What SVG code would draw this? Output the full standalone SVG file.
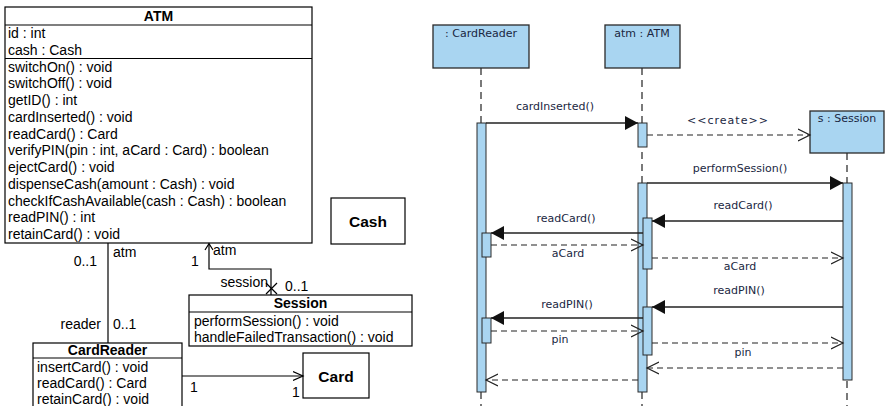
<svg xmlns="http://www.w3.org/2000/svg" width="885" height="406" viewBox="0 0 885 406">
<defs>
<style>
.cls{fill:#fff;stroke:#000;stroke-width:1.2}
.sep{stroke:#000;stroke-width:1.2}
.t{font-family:"Liberation Sans",Arial,sans-serif;font-size:14px;fill:#000}
.b{font-family:"Liberation Sans",Arial,sans-serif;font-size:14px;font-weight:bold;fill:#000;text-anchor:middle}
.big{font-family:"Liberation Sans",Arial,sans-serif;font-size:15.5px;font-weight:bold;fill:#000;text-anchor:middle}
.ln{stroke:#000;stroke-width:1.2;fill:none}
.head{fill:#a9d5f1;stroke:#2a2a2a;stroke-width:1.3}
.act{fill:#a9d5f1;stroke:#2a2a2a;stroke-width:1}
.life{stroke:#222;stroke-width:1.2;stroke-dasharray:7,5;fill:none}
.msg{stroke:#222;stroke-width:1.3;fill:none}
.ret{stroke:#222;stroke-width:1.2;stroke-dasharray:6,4;fill:none}
.s{font-family:"DejaVu Sans",sans-serif;font-size:11px;fill:#1a2742;text-anchor:middle}
</style>
<marker id="fill" markerWidth="14" markerHeight="14" refX="13" refY="7" orient="auto" markerUnits="userSpaceOnUse">
<path d="M0,0 L13,7 L0,14 Z" fill="#111"/>
</marker>
<marker id="open" markerWidth="14" markerHeight="14" refX="12" refY="7" orient="auto" markerUnits="userSpaceOnUse">
<path d="M0,1 L12,7 L0,13" fill="none" stroke="#222" stroke-width="1.2"/>
</marker>
<marker id="openc" markerWidth="12" markerHeight="12" refX="10" refY="6" orient="auto" markerUnits="userSpaceOnUse">
<path d="M0,1.5 L10,6 L0,10.5" fill="none" stroke="#000" stroke-width="1.2"/>
</marker>
</defs>
<rect width="885" height="406" fill="#fff"/>

<!-- Class diagram -->
<g id="ATM">
<rect class="cls" x="5" y="7" width="307" height="236"/>
<line class="sep" x1="5" y1="25" x2="312" y2="25"/>
<line class="sep" x1="5" y1="58.5" x2="312" y2="58.5"/>
<text class="b" x="158.5" y="20.5">ATM</text>
<text class="t" x="8" y="38">id : int</text>
<text class="t" x="8" y="54.5">cash : Cash</text>
<text class="t" x="8" y="71.5">switchOn() : void</text>
<text class="t" x="8" y="88">switchOff() : void</text>
<text class="t" x="8" y="105">getID() : int</text>
<text class="t" x="8" y="121.5">cardInserted() : void</text>
<text class="t" x="8" y="138.5">readCard() : Card</text>
<text class="t" x="8" y="155">verifyPIN(pin : int, aCard : Card) : boolean</text>
<text class="t" x="8" y="172">ejectCard() : void</text>
<text class="t" x="8" y="188.5">dispenseCash(amount : Cash) : void</text>
<text class="t" x="8" y="205.5">checkIfCashAvailable(cash : Cash) : boolean</text>
<text class="t" x="8" y="222">readPIN() : int</text>
<text class="t" x="8" y="238.5">retainCard() : void</text>
</g>
<g id="Cash">
<rect class="cls" x="331" y="198" width="74" height="46"/>
<text class="big" x="368" y="226.5">Cash</text>
</g>
<g id="Session">
<rect class="cls" x="189" y="295" width="223" height="51"/>
<line class="sep" x1="189" y1="312" x2="412" y2="312"/>
<text class="b" x="300.5" y="308">Session</text>
<text class="t" x="194" y="326">performSession() : void</text>
<text class="t" x="194" y="342">handleFailedTransaction() : void</text>
</g>
<g id="CardReader">
<rect class="cls" x="33" y="343" width="149" height="70"/>
<line class="sep" x1="33" y1="358" x2="182" y2="358"/>
<text class="b" x="107.5" y="355">CardReader</text>
<text class="t" x="37" y="371.5">insertCard() : void</text>
<text class="t" x="37" y="388">readCard() : Card</text>
<text class="t" x="37" y="404">retainCard() : void</text>
</g>
<g id="Card">
<rect class="cls" x="303" y="353" width="66" height="45"/>
<text class="big" x="336" y="381.5">Card</text>
</g>
<g id="class-connectors">
<line class="ln" x1="108" y1="243" x2="108" y2="343"/>
<text class="t" x="97" y="266" text-anchor="end">0..1</text>
<text class="t" x="113" y="257">atm</text>
<text class="t" x="101" y="329" text-anchor="end">reader</text>
<text class="t" x="113" y="329">0..1</text>
<polyline class="ln" points="209,243.6 209,269 271,269 271,295"/>
<path class="ln" d="M205,250 L209,243.6 L213,250"/>
<path class="ln" d="M266,283 L277,294 M277,283 L266,294"/>
<text class="t" x="213" y="255">atm</text>
<text class="t" x="191" y="266">1</text>
<text class="t" x="268" y="287" text-anchor="end">session</text>
<text class="t" x="285" y="291">0..1</text>
<line class="ln" x1="182" y1="376" x2="303" y2="376" marker-end="url(#openc)"/>
<text class="t" x="190" y="392">1</text>
<text class="t" x="292" y="397">1</text>
</g>

<!-- Sequence diagram -->
<g id="lifeline-cardreader">
<line class="life" x1="481" y1="68" x2="481" y2="406"/>
<rect class="head" x="433" y="25" width="96" height="43"/>
<text class="s" x="481" y="37">: CardReader</text>
</g>
<g id="lifeline-atm">
<line class="life" x1="642" y1="68" x2="642" y2="406"/>
<rect class="head" x="605" y="25" width="75" height="43"/>
<text class="s" x="642" y="37">atm : ATM</text>
</g>
<g id="lifeline-session">
<line class="life" x1="847" y1="153" x2="847" y2="406"/>
<rect class="head" x="810" y="111" width="74" height="42"/>
<text class="s" x="847" y="122">s : Session</text>
</g>
<g id="activations">
<rect class="act" x="477" y="123" width="9" height="269"/>
<rect class="act" x="638" y="123" width="9" height="24"/>
<rect class="act" x="638" y="183" width="9" height="209"/>
<rect class="act" x="843" y="183" width="9" height="197"/>
<rect class="act" x="643" y="218" width="9" height="51"/>
<rect class="act" x="643" y="307" width="9" height="48"/>
<rect class="act" x="482" y="233" width="9" height="24"/>
<rect class="act" x="482" y="318" width="9" height="25"/>
</g>
<g id="messages">
<line class="msg" x1="486" y1="123" x2="638" y2="123" marker-end="url(#fill)"/>
<text class="s" x="555" y="110">cardInserted()</text>
<line class="ret" x1="647" y1="135" x2="810" y2="135" marker-end="url(#open)"/>
<text class="s" x="728" y="124" letter-spacing="1">&lt;&lt;create&gt;&gt;</text>
<line class="msg" x1="647" y1="183" x2="843" y2="183" marker-end="url(#fill)"/>
<text class="s" x="740" y="172">performSession()</text>
<line class="msg" x1="843" y1="221" x2="652" y2="221" marker-end="url(#fill)"/>
<text class="s" x="743" y="209">readCard()</text>
<line class="msg" x1="643" y1="233" x2="491" y2="233" marker-end="url(#fill)"/>
<text class="s" x="566" y="222">readCard()</text>
<line class="ret" x1="491" y1="245" x2="643" y2="245" marker-end="url(#open)"/>
<text class="s" x="568" y="257">aCard</text>
<line class="ret" x1="652" y1="258" x2="843" y2="258" marker-end="url(#open)"/>
<text class="s" x="740" y="270">aCard</text>
<line class="msg" x1="843" y1="307" x2="652" y2="307" marker-end="url(#fill)"/>
<text class="s" x="739" y="294">readPIN()</text>
<line class="msg" x1="643" y1="318" x2="491" y2="318" marker-end="url(#fill)"/>
<text class="s" x="567" y="308">readPIN()</text>
<line class="ret" x1="491" y1="331" x2="643" y2="331" marker-end="url(#open)"/>
<text class="s" x="560" y="343">pin</text>
<line class="ret" x1="652" y1="343" x2="843" y2="343" marker-end="url(#open)"/>
<text class="s" x="743" y="356">pin</text>
<line class="ret" x1="843" y1="368" x2="647" y2="368" marker-end="url(#open)"/>
<line class="ret" x1="638" y1="380" x2="486" y2="380" marker-end="url(#open)"/>
</g>
</svg>
